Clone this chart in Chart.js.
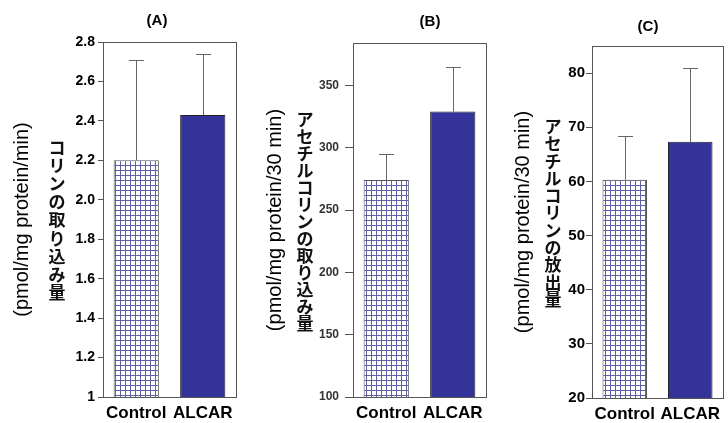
<!DOCTYPE html>
<html>
<head>
<meta charset="utf-8">
<script src="https://cdn.jsdelivr.net/npm/chart.js@4.4.0/dist/chart.umd.min.js"></script>
<style>
  body { margin: 0; background: #fff; }
  #wrap { position: relative; width: 728px; height: 423px; }
  canvas { position: absolute; top: 0; }
</style>
</head>
<body>
<div id="wrap">
  <canvas id="chartA" width="246" height="423" style="left:0"></canvas>
  <canvas id="chartB" width="244" height="423" style="left:246px"></canvas>
  <canvas id="chartC" width="238" height="423" style="left:490px"></canvas>
</div>
<script>
const groups = ['Control', 'ALCAR'];

// (A) choline uptake
const cholineMean = [2.2, 2.43];
const cholineErr = [0.51, 0.31];
const cholineTicks = [1, 1.2, 1.4, 1.6, 1.8, 2.0, 2.2, 2.4, 2.6, 2.8];
const cholineTickLabels = ['1', '1.2', '1.4', '1.6', '1.8', '2.0', '2.2', '2.4', '2.6', '2.8'];

// (B) acetylcholine uptake
const achUptakeMean = [274, 329];
const achUptakeErr = [21, 36];
const achUptakeTicks = [100, 150, 200, 250, 300, 350];

// (C) acetylcholine release
const achReleaseMean = [60.3, 67.3];
const achReleaseErr = [8.1, 13.7];
const achReleaseTicks = [20, 30, 40, 50, 60, 70, 80];

const FONT = '"Liberation Sans", Arial, sans-serif';

function gridPattern() {
  const c = document.createElement('canvas');
  c.width = 5; c.height = 5;
  const g = c.getContext('2d');
  g.fillStyle = '#fff';
  g.fillRect(0, 0, 5, 5);
  g.fillStyle = '#5f5fa5';
  g.fillRect(0, 0, 5, 1);
  g.fillRect(0, 0, 1, 5);
  return g.createPattern(c, 'repeat');
}

// box, error bars, panel letter and the upright Japanese label
const panelExtras = {
  id: 'panelExtras',
  afterDatasetsDraw(chart, args, opts) {
    const { ctx, chartArea: a, scales: { y } } = chart;
    const meta = chart.getDatasetMeta(0);
    const vals = chart.data.datasets[0].data;
    ctx.save();
    ctx.strokeStyle = '#666';
    ctx.lineWidth = 1;
    meta.data.forEach((bar, i) => {
      const px = Math.round(bar.x) + 0.5;
      const top = Math.round(y.getPixelForValue(vals[i] + opts.errors[i])) + 0.5;
      ctx.beginPath();
      ctx.moveTo(px, bar.y);
      ctx.lineTo(px, top);
      ctx.moveTo(px - 7.5, top);
      ctx.lineTo(px + 7.5, top);
      ctx.stroke();
    });
    ctx.strokeStyle = '#555';
    ctx.strokeRect(Math.round(a.left) + 0.5, Math.round(a.top) + 0.5,
      Math.round(a.right - a.left), Math.round(a.bottom - a.top));

    ctx.fillStyle = '#000';
    ctx.textAlign = 'center';
    ctx.textBaseline = 'middle';
    ctx.font = 'bold 15px ' + FONT;
    ctx.fillText(opts.title, opts.titleX, opts.titleY);

    ctx.fillStyle = '#111';
    ctx.font = 'bold 17px "Noto Sans CJK JP", sans-serif';
    const chars = Array.from(opts.jp);
    let cy = opts.jpY - (chars.length - 1) * opts.jpStep / 2;
    chars.forEach(ch => {
      ctx.fillText(ch, opts.jpX, cy);
      cy += opts.jpStep;
    });
    ctx.restore();
  }
};

function makePanel(id, p) {
  return new Chart(document.getElementById(id), {
    type: 'bar',
    data: {
      labels: groups,
      datasets: [{
        data: p.means,
        backgroundColor: [gridPattern(), '#333399'],
        borderColor: ['#555', '#222'],
        borderWidth: 1,
        barPercentage: 0.68,
        categoryPercentage: 1
      }]
    },
    options: {
      responsive: false,
      animation: false,
      devicePixelRatio: 1,
      layout: { padding: { top: p.top, right: p.right, left: 0, bottom: 0 } },
      plugins: {
        legend: { display: false },
        tooltip: { enabled: false },
        panelExtras: {
          errors: p.errors, title: p.title, titleX: p.titleX, titleY: p.titleY,
          jp: p.jp, jpX: p.jpX, jpY: p.jpY, jpStep: p.jpStep
        }
      },
      scales: {
        x: {
          grid: { display: false, drawTicks: false },
          border: { color: '#555' },
          ticks: { color: '#000', padding: 6, maxRotation: 0, font: { family: FONT, size: 17, weight: 'bold' } },
          afterFit: s => { s.height = p.xHeight; }
        },
        y: {
          min: p.min,
          max: p.max,
          border: { color: '#555' },
          grid: { drawOnChartArea: false, color: '#555', tickLength: p.tickLength },
          ticks: {
            color: p.tickColor,
            padding: p.tickPad,
            font: { family: FONT, size: p.tickSize, weight: 'bold' },
            callback: (v, i) => p.tickLabels ? p.tickLabels[i] : String(v)
          },
          afterBuildTicks: s => { s.ticks = p.ticks.map(v => ({ value: v })); },
          afterFit: s => { s.width = p.yWidth; },
          title: {
            display: true,
            text: p.unit,
            color: '#000',
            font: { family: FONT, size: 20 },
            padding: { top: p.titlePad, bottom: 0 }
          }
        }
      }
    },
    plugins: [panelExtras]
  });
}

makePanel('chartA', {
  means: cholineMean, errors: cholineErr, ticks: cholineTicks, tickLabels: cholineTickLabels,
  min: 1, max: 2.8, top: 42, right: 10, xHeight: 26, yWidth: 103,
  tickLength: 5, tickPad: 3, tickSize: 14, tickColor: '#000',
  unit: '(pmol/mg protein/min)', titlePad: 10,
  title: '(A)', titleX: 157, titleY: 21,
  jp: 'コリンの取り込み量', jpX: 57, jpY: 220, jpStep: 18.2
});

makePanel('chartB', {
  means: achUptakeMean, errors: achUptakeErr, ticks: achUptakeTicks,
  min: 100, max: 384, top: 43, right: 4, xHeight: 26, yWidth: 107,
  tickLength: 8, tickPad: 6, tickSize: 12, tickColor: '#333',
  unit: '(pmol/mg protein/30 min)', titlePad: 17,
  title: '(B)', titleX: 184, titleY: 22,
  jp: 'アセチルコリンの取り込み量', jpX: 59, jpY: 222, jpStep: 17
});

makePanel('chartC', {
  means: achReleaseMean, errors: achReleaseErr, ticks: achReleaseTicks,
  min: 20, max: 85, top: 46, right: 5, xHeight: 25, yWidth: 102,
  tickLength: 6, tickPad: 1, tickSize: 15, tickColor: '#000',
  unit: '(pmol/mg protein/30 min)', titlePad: 21,
  title: '(C)', titleX: 158, titleY: 27,
  jp: 'アセチルコリンの放出量', jpX: 63, jpY: 213, jpStep: 17.3
});
</script>
</body>
</html>
